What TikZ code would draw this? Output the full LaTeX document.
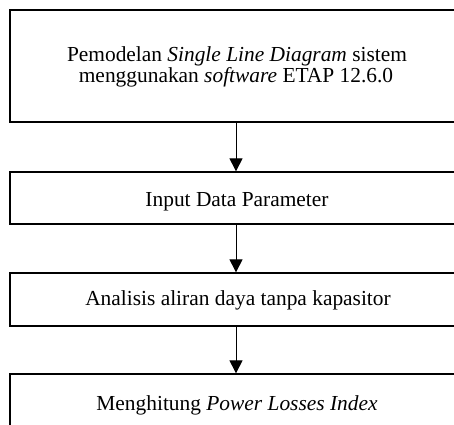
\documentclass[tikz,border=0pt]{standalone}
\usepackage{fontspec}
\setmainfont{Liberation Serif}
\usetikzlibrary{arrows.meta}
\begin{document}
\begin{tikzpicture}[x=1pt,y=1pt,
  flowbox/.style={draw=black, line width=1.3pt, fill=white, minimum width=452pt,
    inner sep=0pt},
  flowtext/.style={anchor=base, inner sep=0pt, font=\fontsize{21.4}{21}\selectfont},
  flowarrow/.style={line width=1pt, -{Triangle[width=13pt,length=13pt]}}]
\useasboundingbox (0,0) rectangle (454,-424);
% boxes
\node[flowbox, minimum height=112pt] (b1) at (236,-66) {};
\node[flowbox, minimum height=52pt] (b2) at (236,-198) {};
\node[flowbox, minimum height=53pt] (b3) at (236,-299.5) {};
\node[flowbox, minimum height=53pt] (b4) at (236,-400.5) {};
% labels
\node[flowtext] (t1a) at (237,-61) {Pemodelan \textit{Single Line Diagram} sistem};
\node[flowtext] (t1b) at (236,-82) {menggunakan \textit{software} ETAP 12.6.0};
\node[flowtext] (t2) at (237,-206.5) {Input Data Parameter};
\node[flowtext] (t3) at (238,-305.5) {Analisis aliran daya tanpa kapasitor};
\node[flowtext] (t4) at (237,-410) {Menghitung \textit{Power Losses Index}};
% connectors
\draw[flowarrow] (b1.south) -- (b2.north);
\draw[flowarrow] (b2.south) -- (b3.north);
\draw[flowarrow] (b3.south) -- (b4.north);
\end{tikzpicture}
\end{document}
